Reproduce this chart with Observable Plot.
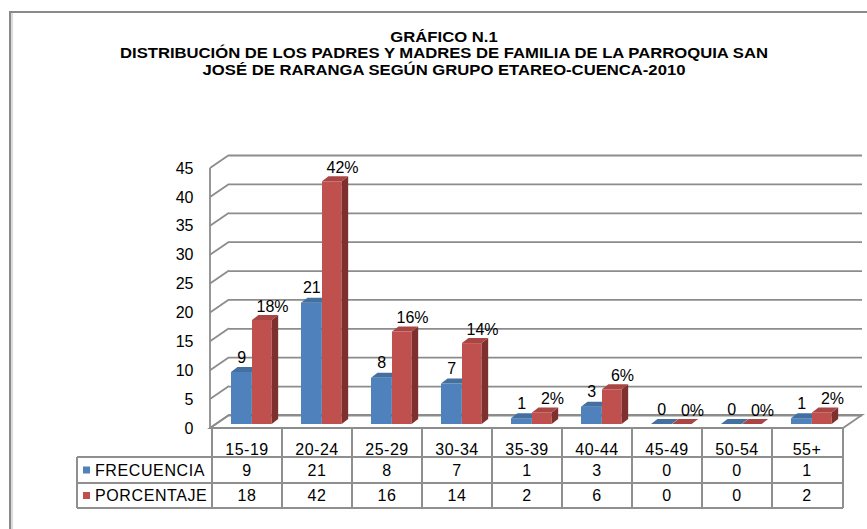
<!DOCTYPE html>
<html><head><meta charset="utf-8">
<script src="https://cdn.jsdelivr.net/npm/d3@7"></script>
<script src="https://cdn.jsdelivr.net/npm/@observablehq/plot@0.6"></script>
<style>
body{margin:0;background:#fff;font-family:"Liberation Sans",Arial,sans-serif;}
#wrap{position:relative;width:867px;height:529px;overflow:hidden;background:#fff;}
#border{position:absolute;left:9px;top:11px;width:900px;height:600px;border-left:2px solid #8a8a8a;border-top:2px solid #8a8a8a;box-shadow:inset 2px 0 0 #dcdcdc;}
.tl{position:absolute;left:444px;white-space:nowrap;font-weight:bold;font-size:14px;color:#000;transform-origin:center;line-height:16px;}
#chart{position:absolute;left:0;top:0;}
</style></head>
<body>
<div id="wrap"><div id="border"></div><div id="chart"></div></div>
<script>
const categories = ["15-19","20-24","25-29","30-34","35-39","40-44","45-49","50-54","55+"];
const frecuencia = [9,21,8,7,1,3,0,0,1];
const porcentaje = [18,42,16,14,2,6,0,0,2];
const seriesNames = ["FRECUENCIA","PORCENTAJE"];
const yTicks = [0,5,10,15,20,25,30,35,40,45];
const titleLines = ["GRÁFICO N.1","DISTRIBUCIÓN DE LOS PADRES Y MADRES DE FAMILIA DE LA PARROQUIA SAN","JOSÉ DE RARANGA SEGÚN GRUPO ETAREO-CUENCA-2010"];

const rows = categories.map((c,i)=>({cat:c, frec:frecuencia[i], porc:porcentaje[i]}));
const BLUE="#4f81bd", RED="#c0504d";
const BLUE_TOP="#44709f", BLUE_SIDE="#36567f";
const RED_TOP="#a94643", RED_SIDE="#7e302e";
const GRID="#8c8c8c";
const FONT="'Liberation Sans', Arial, sans-serif";

const plot = Plot.plot({
  width: 867, height: 529,
  marginLeft: 210, marginRight: 24, marginTop: 164, marginBottom: 105,
  style: {fontFamily: FONT, fontSize: "16px", background: "transparent", overflow: "visible"},
  x: {type: "band", domain: categories, padding: 0, axis: null, label: null},
  y: {domain: [0,45], axis: null, label: null},
  marks: [
    Plot.ruleY(yTicks, {dx: 19, dy: -9, stroke: GRID, strokeWidth: 1.8}),
    Plot.axisY(yTicks, {tickSize: 0, tickPadding: 17, dy: 4, fill: "#000", label: null, fontSize: 16}),
    Plot.barY(rows, {x: "cat", y: "frec", fill: BLUE, insetLeft: 19, insetRight: 30.33}),
    Plot.barY(rows, {x: "cat", y: "porc", fill: RED, insetLeft: 40, insetRight: 10.33}),
    Plot.text(rows, {x: "cat", y: "frec", text: d => String(d.frec), dx: -5.7, dy: -15, fill: "#000", fontSize: 16}),
    Plot.text(rows, {x: "cat", y: "porc", text: d => d.porc + "%", dx: 25, dy: -14, fill: "#000", fontSize: 16})
  ]
});
document.getElementById("chart").appendChild(plot);

// 3D decoration and data table, positioned through the plot's own scales
const xs = plot.scale("x"), ys = plot.scale("y");
const svg = d3.select(plot);
const xl = xs.range[0], xr = xs.range[1], bw = xs.bandwidth;
const y0 = ys.apply(0);
const firstBar = plot.querySelector('g[aria-label="bar"]');
const deco = svg.insert("g", () => firstBar).attr("stroke", GRID).attr("stroke-width", 1.8).attr("fill", "none");
deco.append("polygon").attr("points", [[xl,y0+4],[xr,y0+4],[xr+19,y0-9],[xl+19,y0-9]].map(p=>p.join(",")).join(" "));
deco.append("line").attr("x1", xl).attr("x2", xl).attr("y1", ys.apply(45)+4).attr("y2", y0+4);
for (const t of yTicks) deco.append("line").attr("x1", xl).attr("y1", ys.apply(t)+4).attr("x2", xl+19).attr("y2", ys.apply(t)-9);

const barGroups = plot.querySelectorAll('g[aria-label="bar"]');
const DX = 6.5, DY = -5;
function faces(group, key, inL, inR, topC, sideC) {
  const g = d3.select(group);
  for (const r of rows) {
    const x = xs.apply(r.cat) + inL, w = bw - inL - inR;
    const yt = ys.apply(r[key]), yb = y0;
    g.append("polygon").attr("fill", sideC).attr("points",
      [[x+w,yt],[x+w+DX,yt+DY],[x+w+DX,yb+DY],[x+w,yb]].map(p=>p.join(",")).join(" "));
    g.append("polygon").attr("fill", topC).attr("points",
      [[x,yt],[x+w,yt],[x+w+DX,yt+DY],[x+DX,yt+DY]].map(p=>p.join(",")).join(" "));
  }
}
faces(barGroups[0], "frec", 19, 30.33, BLUE_TOP, BLUE_SIDE);
faces(barGroups[1], "porc", 40, 10.33, RED_TOP, RED_SIDE);

const tb = svg.append("g").attr("font-family", FONT).attr("font-size", 16).attr("fill", "#000");
const tl = tb.append("g").attr("stroke", "#8f8f8f").attr("stroke-width", 2);
const legL = 77, rTop = y0+4, r1 = y0+33, r2 = y0+59, r3 = y0+84;
for (const c of categories) tl.append("line").attr("x1", xs.apply(c)).attr("x2", xs.apply(c)).attr("y1", rTop).attr("y2", r3);
tl.append("line").attr("x1", xr).attr("x2", xr).attr("y1", rTop).attr("y2", r3);
tl.append("line").attr("x1", legL).attr("x2", legL).attr("y1", r1).attr("y2", r3);
for (const yy of [r1, r2, r3]) tl.append("line").attr("x1", legL).attr("x2", xr).attr("y1", yy).attr("y2", yy);
const tt = tb.append("g").attr("text-anchor", "middle").attr("dominant-baseline", "central").attr("letter-spacing", "0.5px");
categories.forEach((c, i) => {
  const cx = xs.apply(c) + bw/2;
  tt.append("text").attr("x", cx).attr("y", y0+25).text(c);
  tt.append("text").attr("x", cx).attr("y", (r1+r2)/2).text(frecuencia[i]);
  tt.append("text").attr("x", cx).attr("y", (r2+r3)/2).text(porcentaje[i]);
});
[[seriesNames[0], BLUE, (r1+r2)/2],[seriesNames[1], RED, (r2+r3)/2]].forEach(([n, col, cy]) => {
  tb.append("rect").attr("x", 83).attr("y", cy-3.5).attr("width", 7).attr("height", 7).attr("fill", col);
  tb.append("text").attr("x", 95).attr("y", cy).attr("text-anchor", "start").attr("dominant-baseline", "central").attr("letter-spacing", "0.6px").text(n);
});

const wrap = document.getElementById("wrap");
const tops = [29, 45, 62];
const divs = titleLines.map((t, i) => {
  const d = document.createElement("div");
  d.className = "tl"; d.textContent = t; d.style.top = tops[i] + "px";
  wrap.appendChild(d); return d;
});
const k = 648 / divs[1].offsetWidth;
divs.forEach(d => { d.style.transform = `translateX(-50%) scaleX(${k})`; });
</script>
</body></html>
